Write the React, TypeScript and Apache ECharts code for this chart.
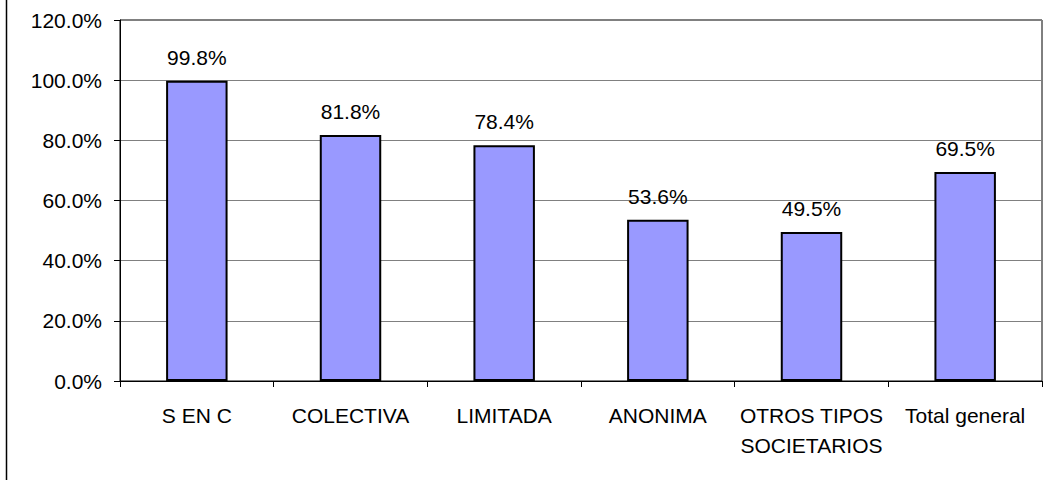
import React, { useEffect, useRef } from "react";
import * as echarts from "echarts";

const categories = ["S EN C", "COLECTIVA", "LIMITADA", "ANONIMA", "OTROS TIPOS\nSOCIETARIOS", "Total general"];
const values = [99.8, 81.8, 78.4, 53.6, 49.5, 69.5];

const FONT = "'Liberation Sans', Arial, sans-serif";

export default function App() {
  const ref = useRef<HTMLDivElement>(null);
  useEffect(() => {
    if (!ref.current) return;
    const chart = echarts.init(ref.current, null, { renderer: "svg" });
    chart.setOption({
      animation: false,
      backgroundColor: "#ffffff",
      textStyle: { fontFamily: FONT },
      grid: {
        left: 120,
        right: 6,
        top: 20,
        bottom: 99,
        show: true,
        borderColor: "#000000",
        borderWidth: 1,
        backgroundColor: "transparent",
      },
      graphic: [
        {
          type: "line",
          shape: { x1: 6.5, y1: 0, x2: 6.5, y2: 480 },
          style: { stroke: "#000000", lineWidth: 1.5 },
        },
      ],
      xAxis: {
        type: "category",
        data: categories,
        axisLine: { show: true, lineStyle: { color: "#000000", width: 1 } },
        axisTick: { show: true, length: 6, lineStyle: { color: "#000000" } },
        axisLabel: {
          interval: 0,
          color: "#000000",
          fontFamily: FONT,
          fontSize: 21,
          lineHeight: 30,
          margin: 19,
        },
      },
      yAxis: {
        type: "value",
        min: 0,
        max: 120,
        interval: 20,
        axisLine: { show: true, lineStyle: { color: "#000000", width: 1 } },
        axisTick: { show: true, length: 6, lineStyle: { color: "#000000" } },
        axisLabel: {
          color: "#000000",
          fontFamily: FONT,
          fontSize: 21,
          margin: 18,
          formatter: (v: number) => v.toFixed(1) + "%",
        },
        splitLine: { show: true, lineStyle: { color: "#808080", width: 1 } },
      },
      series: [
        {
          type: "bar",
          data: values,
          barWidth: "40%",
          itemStyle: { color: "#9999FF", borderColor: "#000000", borderWidth: 2 },
          label: {
            show: true,
            position: "top",
            distance: 13,
            color: "#000000",
            fontFamily: FONT,
            fontSize: 21,
            formatter: (p: any) => p.value.toFixed(1) + "%",
          },
        },
      ],
    });
    return () => chart.dispose();
  }, []);
  return (
    <div
      ref={ref}
      style={{ position: "fixed", left: 0, top: 0, width: 1048, height: 480, background: "#ffffff" }}
    />
  );
}
